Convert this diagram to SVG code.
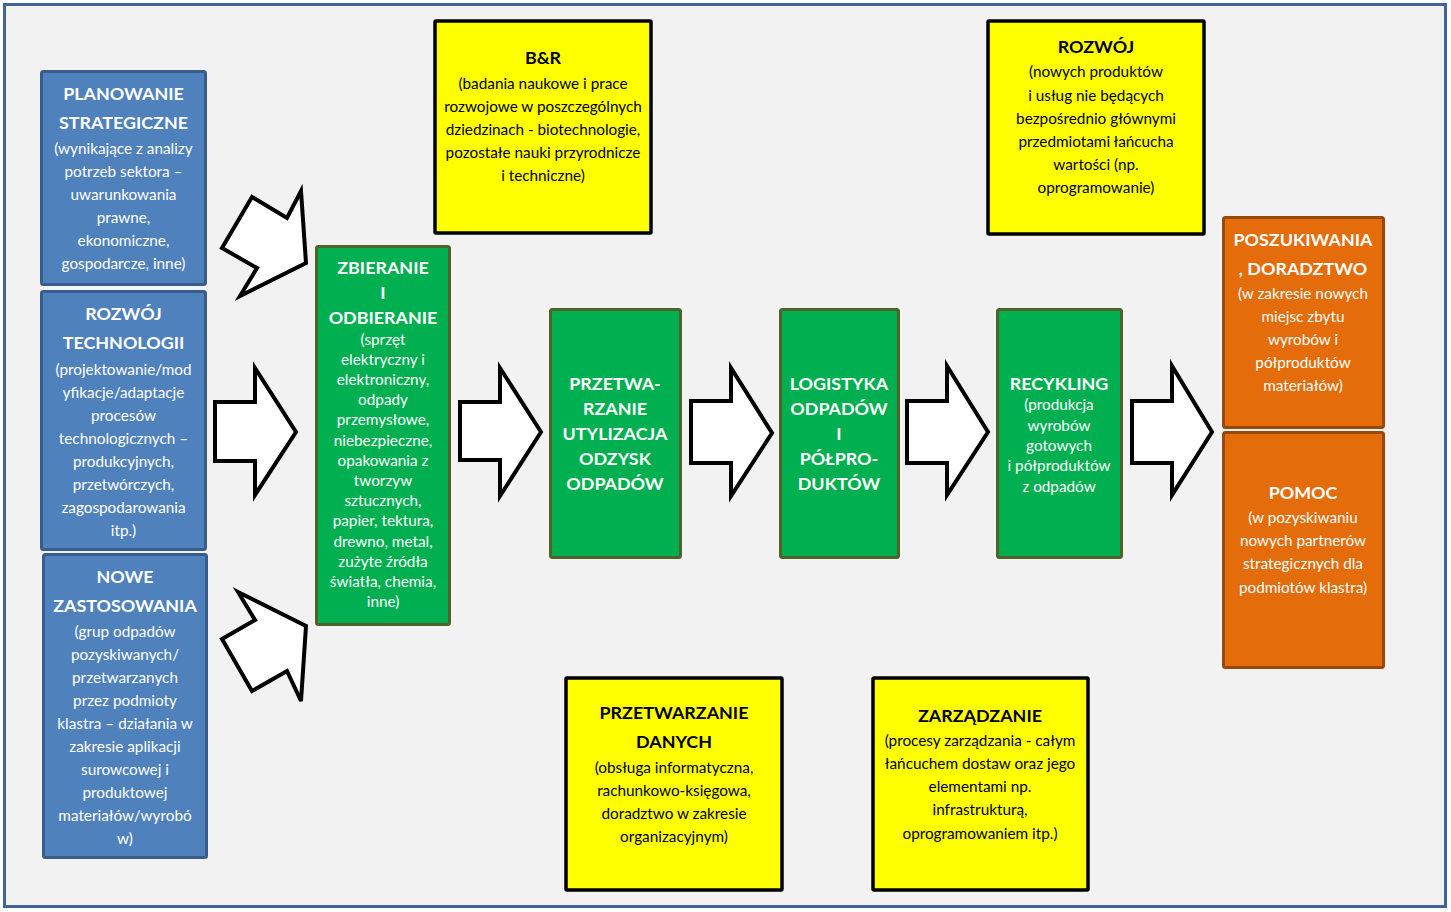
<svg xmlns="http://www.w3.org/2000/svg" width="1451" height="912" viewBox="0 0 1451 912">
<defs>
<style>
.bg{fill:#f2f2f2;stroke:#41659a;stroke-width:3}
.blue{fill:#4f81bd;stroke:#385d8a;stroke-width:3}
.green{fill:#00b050;stroke:#4f6228;stroke-width:3}
.yellow{fill:#ffff00;stroke:#000;stroke-width:3.5}
.orange{fill:#e46c0a;stroke:#984807;stroke-width:3}
.arrow{fill:#fff;stroke:#000;stroke-width:4;stroke-linejoin:miter}
text{font-family:Lato,"Open Sans","Liberation Sans",sans-serif;text-anchor:middle}
.h{font-weight:bold;font-size:17.9px}
.b{font-size:15.3px}
.w{fill:#fff}
.k{fill:#000}
</style>
</defs>
<rect class="bg" x="4.5" y="4.5" width="1441" height="902"/>

<g id="connectors">
<polygon class="arrow" points="215,402 255,402 255,368 296,432 255,495 255,461 215,461"/>
<polygon class="arrow" points="460,402 500,402 500,368 541,432 500,496 500,460 460,460"/>
<polygon class="arrow" points="691,401 731,401 731,368 772,433 731,496 731,463 691,463"/>
<polygon class="arrow" points="907,401 947,401 947,366 988,432 947,495 947,463 907,463"/>
<polygon class="arrow" points="1132,401 1172,401 1172,366 1212,432 1172,495 1172,463 1132,463"/>
<polygon class="arrow" points="222,248 252,197 287,218 301,191 306,263 240,296 257,268"/>
<polygon class="arrow" points="238,592 306,626 301,701 287,671 252,691 222,639 255,620"/>
</g>

<g id="planowanie">
<rect class="blue" x="41.5" y="71.5" width="164" height="213" rx="2"/>
<text class="h w" x="123.5" y="100">PLANOWANIE</text>
<text class="h w" x="123.5" y="129">STRATEGICZNE</text>
<text class="b w" x="123.5" y="154">(wynikające z analizy</text>
<text class="b w" x="123.5" y="177">potrzeb sektora –</text>
<text class="b w" x="123.5" y="200">uwarunkowania</text>
<text class="b w" x="123.5" y="223">prawne,</text>
<text class="b w" x="123.5" y="246">ekonomiczne,</text>
<text class="b w" x="123.5" y="269">gospodarcze, inne)</text>
</g>

<g id="rozwoj-technologii">
<rect class="blue" x="41.5" y="291.5" width="164" height="258" rx="2"/>
<text class="h w" x="123.5" y="320">ROZWÓJ</text>
<text class="h w" x="123.5" y="349">TECHNOLOGII</text>
<text class="b w" x="123.5" y="375">(projektowanie/mod</text>
<text class="b w" x="123.5" y="398">yfikacje/adaptacje</text>
<text class="b w" x="123.5" y="421">procesów</text>
<text class="b w" x="123.5" y="444">technologicznych –</text>
<text class="b w" x="123.5" y="467">produkcyjnych,</text>
<text class="b w" x="123.5" y="490">przetwórczych,</text>
<text class="b w" x="123.5" y="513">zagospodarowania</text>
<text class="b w" x="123.5" y="536">itp.)</text>
</g>

<g id="nowe-zastosowania">
<rect class="blue" x="43.5" y="554.5" width="163" height="303" rx="2"/>
<text class="h w" x="125" y="583">NOWE</text>
<text class="h w" x="125" y="612">ZASTOSOWANIA</text>
<text class="b w" x="125" y="637">(grup odpadów</text>
<text class="b w" x="125" y="660">pozyskiwanych/</text>
<text class="b w" x="125" y="683">przetwarzanych</text>
<text class="b w" x="125" y="706">przez podmioty</text>
<text class="b w" x="125" y="729">klastra – działania w</text>
<text class="b w" x="125" y="752">zakresie aplikacji</text>
<text class="b w" x="125" y="775">surowcowej i</text>
<text class="b w" x="125" y="798">produktowej</text>
<text class="b w" x="125" y="821">materiałów/wyrobó</text>
<text class="b w" x="125" y="844">w)</text>
</g>

<g id="zbieranie">
<rect class="green" x="316.5" y="246.5" width="133" height="378" rx="2"/>
<text class="h w" x="383" y="274">ZBIERANIE</text>
<text class="h w" x="383" y="299">I</text>
<text class="h w" x="383" y="324">ODBIERANIE</text>
<text class="b w" x="383" y="345">(sprzęt</text>
<text class="b w" x="383" y="365">elektryczny i</text>
<text class="b w" x="383" y="385">elektroniczny,</text>
<text class="b w" x="383" y="405">odpady</text>
<text class="b w" x="383" y="425">przemysłowe,</text>
<text class="b w" x="383" y="446">niebezpieczne,</text>
<text class="b w" x="383" y="466">opakowania z</text>
<text class="b w" x="383" y="486">tworzyw</text>
<text class="b w" x="383" y="506">sztucznych,</text>
<text class="b w" x="383" y="526">papier, tektura,</text>
<text class="b w" x="383" y="547">drewno, metal,</text>
<text class="b w" x="383" y="567">zużyte źródła</text>
<text class="b w" x="383" y="587">światła, chemia,</text>
<text class="b w" x="383" y="607">inne)</text>
</g>

<g id="przetwarzanie">
<rect class="green" x="550.5" y="309.5" width="130" height="248" rx="2"/>
<text class="h w" x="615" y="390">PRZETWA-</text>
<text class="h w" x="615" y="415">RZANIE</text>
<text class="h w" x="615" y="440">UTYLIZACJA</text>
<text class="h w" x="615" y="465">ODZYSK</text>
<text class="h w" x="615" y="490">ODPADÓW</text>
</g>

<g id="logistyka">
<rect class="green" x="780.5" y="309.5" width="118" height="248" rx="2"/>
<text class="h w" x="839" y="390">LOGISTYKA</text>
<text class="h w" x="839" y="415">ODPADÓW</text>
<text class="h w" x="839" y="440">I</text>
<text class="h w" x="839" y="465">PÓŁPRO-</text>
<text class="h w" x="839" y="490">DUKTÓW</text>
</g>

<g id="recykling">
<rect class="green" x="997.5" y="309.5" width="124" height="248" rx="2"/>
<text class="h w" x="1059" y="390">RECYKLING</text>
<text class="b w" x="1059" y="410">(produkcja</text>
<text class="b w" x="1059" y="431">wyrobów</text>
<text class="b w" x="1059" y="451">gotowych</text>
<text class="b w" x="1059" y="471">i półproduktów</text>
<text class="b w" x="1059" y="492">z odpadów</text>
</g>

<g id="br">
<rect class="yellow" x="435" y="21" width="216" height="212" rx="1"/>
<text class="h k" x="543" y="64">B&amp;R</text>
<text class="b k" x="543" y="89">(badania naukowe i prace</text>
<text class="b k" x="543" y="112">rozwojowe w poszczególnych</text>
<text class="b k" x="543" y="135">dziedzinach - biotechnologie,</text>
<text class="b k" x="543" y="158">pozostałe nauki przyrodnicze</text>
<text class="b k" x="543" y="181">i techniczne)</text>
</g>

<g id="rozwoj">
<rect class="yellow" x="988" y="21" width="216" height="213" rx="1"/>
<text class="h k" x="1096" y="53">ROZWÓJ</text>
<text class="b k" x="1096" y="77">(nowych produktów</text>
<text class="b k" x="1096" y="101">i usług nie będących</text>
<text class="b k" x="1096" y="124">bezpośrednio głównymi</text>
<text class="b k" x="1096" y="147">przedmiotami łańcucha</text>
<text class="b k" x="1096" y="170">wartości (np.</text>
<text class="b k" x="1096" y="193">oprogramowanie)</text>
</g>

<g id="poszukiwania">
<rect class="orange" x="1223.5" y="217.5" width="160" height="210" rx="2"/>
<text class="h w" x="1303" y="246">POSZUKIWANIA</text>
<text class="h w" x="1303" y="275">, DORADZTWO</text>
<text class="b w" x="1303" y="299">(w zakresie nowych</text>
<text class="b w" x="1303" y="322">miejsc zbytu</text>
<text class="b w" x="1303" y="345">wyrobów i</text>
<text class="b w" x="1303" y="368">półproduktów</text>
<text class="b w" x="1303" y="391">materiałów)</text>
</g>

<g id="pomoc">
<rect class="orange" x="1223.5" y="432.5" width="160" height="235" rx="2"/>
<text class="h w" x="1303" y="499">POMOC</text>
<text class="b w" x="1303" y="523">(w pozyskiwaniu</text>
<text class="b w" x="1303" y="546">nowych partnerów</text>
<text class="b w" x="1303" y="569">strategicznych dla</text>
<text class="b w" x="1303" y="593">podmiotów klastra)</text>
</g>

<g id="przetwarzanie-danych">
<rect class="yellow" x="566" y="678" width="216" height="212" rx="1"/>
<text class="h k" x="674" y="719">PRZETWARZANIE</text>
<text class="h k" x="674" y="748">DANYCH</text>
<text class="b k" x="674" y="773">(obsługa informatyczna,</text>
<text class="b k" x="674" y="796">rachunkowo-księgowa,</text>
<text class="b k" x="674" y="819">doradztwo w zakresie</text>
<text class="b k" x="674" y="842">organizacyjnym)</text>
</g>

<g id="zarzadzanie">
<rect class="yellow" x="873" y="678" width="215" height="212" rx="1"/>
<text class="h k" x="980" y="722">ZARZĄDZANIE</text>
<text class="b k" x="980" y="746">(procesy zarządzania - całym</text>
<text class="b k" x="980" y="769">łańcuchem dostaw oraz jego</text>
<text class="b k" x="980" y="792">elementami np.</text>
<text class="b k" x="980" y="815">infrastrukturą,</text>
<text class="b k" x="980" y="839">oprogramowaniem itp.)</text>
</g>
</svg>
